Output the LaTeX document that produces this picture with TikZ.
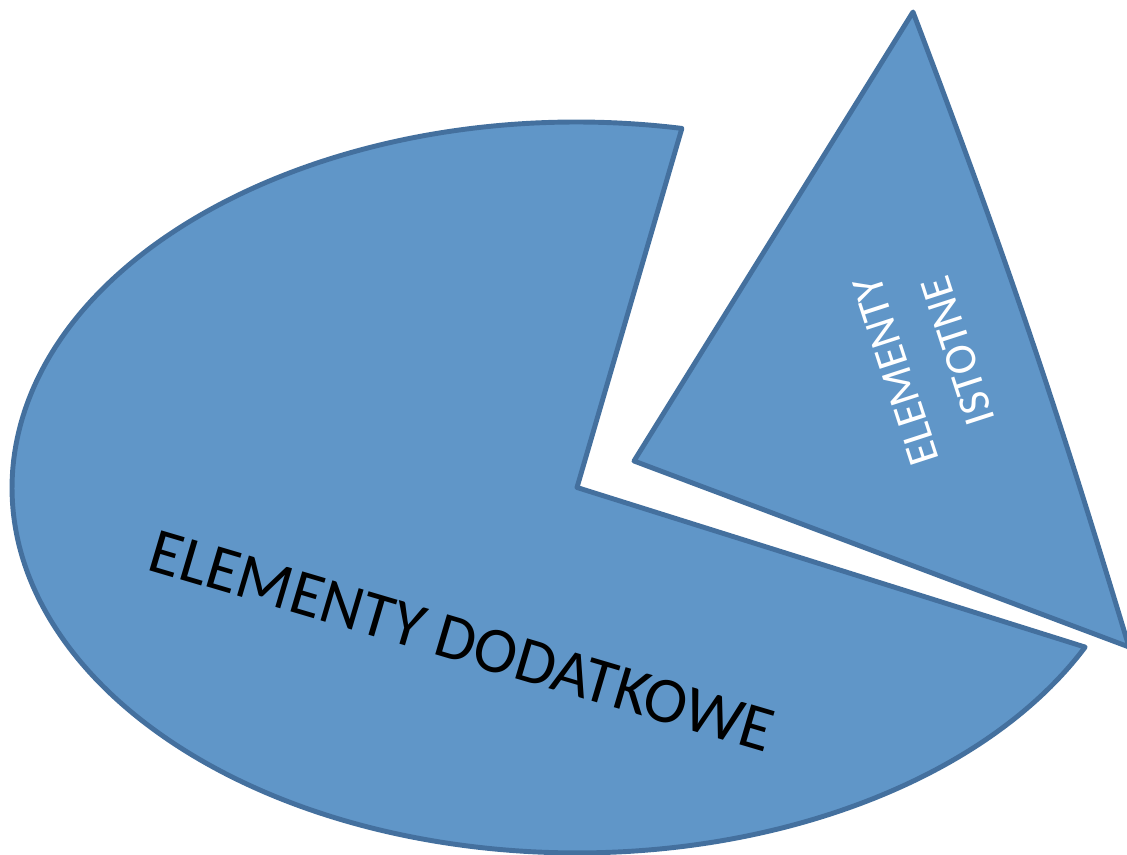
\documentclass[tikz,border=0pt]{standalone}
\usepackage{fontspec}
\setmainfont{Carlito}
\usepackage{xcolor}
\definecolor{colorPie}{HTML}{6096C8}
\definecolor{colorEdge}{HTML}{44709E}

\begin{document}
\begin{tikzpicture}[x=0.02cm,y=0.02cm,slice/.style={fill=colorPie, draw=colorEdge, line width=2.8pt, line join=round},lbl/.style={align=center, inner sep=0pt},]
    \useasboundingbox (0,0) rectangle (1127,855);
    \coordinate (C) at (577,367.5);
    \draw[slice] (C) -- ++(79.3:11.3cm and 7.31cm) arc[start angle=79.3, end angle=334.1, x radius=11.3cm, y radius=7.31cm] -- cycle;
    \coordinate (V) at (634,394);
    \coordinate (T) at (913,843);
    \coordinate (R) at (1129,208);
    \draw[slice] (V) -- (T) to[bend left=2] (R) -- cycle;
    \node[lbl, rotate=-16.5, font=\fontsize{37}{44}\selectfont] (dod) at (462,214) {ELEMENTY DODATKOWE};
    \node[lbl, rotate=108, text=white, font=\fontsize{25.5}{37}\selectfont] (ist) at (927,494) {ELEMENTY\\ISTOTNE};
\end{tikzpicture}
\end{document}
